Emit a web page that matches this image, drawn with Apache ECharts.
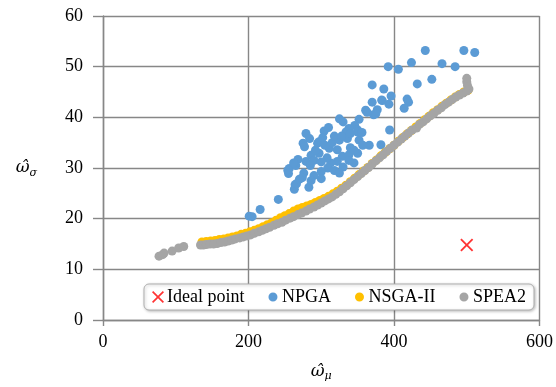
<!DOCTYPE html>
<html>
<head>
<meta charset="utf-8">
<script src="https://cdn.jsdelivr.net/npm/echarts@6/dist/echarts.min.js"></script>
<style>
  html, body { margin: 0; padding: 0; background: #fff; }
  #main { width: 556px; height: 387px; }
</style>
</head>
<body>
<div id="main"></div>
<script>
// values: [omega_mu, omega_sigma]
var idealPoint = [[500, 14.8]];

var npga = [
  [443, 53.2], [496, 53.2], [511, 52.8], [392, 50.0], [406, 49.5], [424, 50.8], [466, 50.6], [484, 50.0],
  [370, 46.4], [386, 45.6], [432, 46.6], [452, 47.5],
  [396, 44.2], [383, 43.4], [370, 43.0], [393, 42.6], [418, 43.6], [420, 43.0], [414, 41.8], [384, 43.3],
  [361, 41.4], [377, 41.5], [372, 40.5], [363, 41.0], [375, 40.7],
  [325, 39.7], [330, 39.1], [352, 39.6], [346, 38.4], [338, 37.8], [350, 37.5], [394, 37.5], [334, 37.1],
  [304, 37.3], [279, 36.8], [350, 37.1],
  [366, 34.5], [382, 34.6], [352, 35.5], [336, 35.8], [325, 35.5], [297, 35.2], [275, 34.9], [277, 34.2],
  [295, 34.9], [311, 33.9], [322, 33.6],
  [329, 32.3], [338, 32.6], [350, 32.9], [297, 32.9], [268, 31.7], [279, 31.3], [345, 31.0], [322, 31.3],
  [313, 31.0], [309, 30.0],
  [300, 29.3], [300, 27.9], [276, 29.0], [274, 28.1], [254, 29.5], [256, 29.9], [265, 30.5],
  [264, 26.7], [263, 25.8], [283, 26.2], [241, 23.8], [216, 21.8], [201, 20.5], [205, 20.4],
  [255, 28.9], [266, 26.9],
  [286, 32.5], [290, 31.5], [305, 34.5], [315, 35.0], [318, 36.3], [328, 36.3], [340, 34.0], [345, 33.5],
  [357, 34.5], [330, 30.2], [318, 29.5], [290, 28.5], [285, 30.5], [292, 33.5], [302, 36.0], [310, 38.0],
  [340, 36.8], [356, 37.0], [286, 27.5], [270, 27.8], [262, 31.0], [308, 32.0], [325, 29.0], [284, 35.8],
  [338, 31.5], [300, 31.2]
];

var nsga2 = [
  [136, 15.4], [142, 15.5], [148, 15.6], [154, 15.7], [160, 15.9], [166, 16.0], [172, 16.2], [178, 16.4],
  [184, 16.6], [190, 16.9], [196, 17.1], [202, 17.4], [208, 17.7], [214, 18.0], [220, 18.4], [226, 18.8],
  [232, 19.2], [238, 19.7], [244, 20.2], [250, 20.6], [256, 21.0], [262, 21.5], [268, 21.9], [274, 22.2],
  [280, 22.5], [286, 22.8], [292, 23.2], [298, 23.6], [304, 24.0], [310, 24.4], [316, 24.9], [322, 25.4],
  [328, 26.0], [334, 26.6], [340, 27.3], [346, 28.0], [352, 28.7], [358, 29.4], [364, 30.1], [370, 30.9],
  [376, 31.6], [382, 32.4], [388, 33.1], [394, 33.8], [400, 34.5], [406, 35.3], [412, 36.0], [418, 36.7],
  [424, 37.4], [430, 38.1], [436, 38.8], [442, 39.5], [448, 40.2], [454, 40.9], [460, 41.5], [466, 42.2],
  [472, 42.8], [478, 43.4], [484, 44.0], [490, 44.5], [496, 45.0], [502, 45.4]
];

var spea2 = [
  [77, 12.6], [82, 12.9], [84, 13.2], [95, 13.6], [104, 14.2], [111, 14.5],
  [134, 14.8], [138, 14.8], [142, 14.9], [147, 15.0], [152, 15.0], [157, 15.1], [162, 15.3], [167, 15.4],
  [172, 15.6], [177, 15.8], [182, 16.0], [188, 16.2], [193, 16.4], [198, 16.6], [203, 16.8], [208, 17.1],
  [214, 17.4], [219, 17.7], [224, 18.0], [229, 18.3], [235, 18.7], [240, 19.0], [246, 19.3], [251, 19.7],
  [257, 20.1], [262, 20.4], [268, 20.8], [273, 21.1], [279, 21.5], [284, 21.9], [290, 22.3], [295, 22.7],
  [300, 23.1], [305, 23.5], [310, 23.9], [315, 24.3], [320, 24.8], [325, 25.3], [330, 25.9], [335, 26.5],
  [340, 27.1], [345, 27.7], [350, 28.3], [355, 28.9], [360, 29.5], [365, 30.1], [370, 30.8], [375, 31.4],
  [380, 32.0], [385, 32.6], [390, 33.3], [395, 33.9], [400, 34.5], [405, 35.1], [410, 35.7], [415, 36.3],
  [420, 36.9], [425, 37.5], [431, 37.9], [440, 39.1], [435, 38.6], [445, 39.7], [450, 40.3], [455, 40.8],
  [460, 41.4], [465, 41.9], [470, 42.5], [475, 43.0], [480, 43.5], [485, 44.0], [490, 44.4], [495, 44.8],
  [500, 45.2], [503, 45.6], [501, 46.3], [500, 47.0], [500, 47.7]
];

var xTicks = { min: 0, max: 600, interval: 200 };
var yTicks = { min: 0, max: 60, interval: 10 };

var crossPath = 'path://M1,0 L5,4 L9,0 L10,1 L6,5 L10,9 L9,10 L5,6 L1,10 L0,9 L4,5 L0,1 Z';
var serif = '"Liberation Serif", "Times New Roman", serif';
var gridColor = '#878787';

var myChart = echarts.init(document.getElementById('main'), null, { renderer: 'canvas' });

var nameRich = {
  w: { fontFamily: 'DejaVu Serif', fontStyle: 'italic', fontSize: 17, color: '#000' },
  s: { fontFamily: 'DejaVu Serif', fontStyle: 'italic', fontSize: 11, color: '#000', padding: [10, 0, 0, 0] }
};

var option = {
  backgroundColor: '#fff',
  animation: false,
  textStyle: { fontFamily: serif },
  grid: { left: 103, right: 12, top: 16, bottom: 63 },
  legend: {
    left: 144,
    top: 284,
    padding: [4, 8, 4, 8],
    itemGap: 21,
    itemWidth: 12,
    itemHeight: 12,
    backgroundColor: '#fff',
    borderColor: '#b0b0b0',
    borderWidth: 1,
    borderRadius: 5,
    shadowColor: 'rgba(0,0,0,0.25)',
    shadowBlur: 3,
    shadowOffsetX: 1,
    shadowOffsetY: 1,
    textStyle: { fontFamily: serif, fontSize: 18, color: '#000', padding: [0, 0, 0, -2] },
    data: [
      { name: 'Ideal point', icon: crossPath },
      { name: 'NPGA', icon: 'circle', itemStyle: { borderColor: '#fff', borderWidth: 3 } },
      { name: 'NSGA-II', icon: 'circle', itemStyle: { borderColor: '#fff', borderWidth: 3 } },
      { name: 'SPEA2', icon: 'circle', itemStyle: { borderColor: '#fff', borderWidth: 3 } }
    ]
  },
  xAxis: {
    type: 'value',
    min: xTicks.min,
    max: xTicks.max,
    interval: xTicks.interval,
    name: '{w|ω̂}{s|μ}',
    nameLocation: 'middle',
    nameGap: 41,
    nameTextStyle: { rich: nameRich },
    axisLine: { show: true, lineStyle: { color: gridColor, width: 1.4 } },
    axisTick: { show: true, inside: false, length: 6, lineStyle: { color: gridColor, width: 1.4 } },
    axisLabel: { fontFamily: serif, fontSize: 18, color: '#000', margin: 13 },
    splitLine: { show: true, lineStyle: { color: gridColor, width: 1.4 } }
  },
  yAxis: {
    type: 'value',
    min: yTicks.min,
    max: yTicks.max,
    interval: yTicks.interval,
    name: '{w|ω̂}{s|σ}',
    nameLocation: 'middle',
    nameRotate: 0,
    nameGap: 66,
    nameTextStyle: { rich: nameRich },
    axisLine: { show: true, lineStyle: { color: gridColor, width: 1.4 } },
    axisTick: { show: true, inside: false, length: 10, lineStyle: { color: gridColor, width: 1.4 } },
    axisLabel: { fontFamily: serif, fontSize: 18, color: '#000', margin: 20 },
    splitLine: { show: true, lineStyle: { color: gridColor, width: 1.4 } }
  },
  series: [
    {
      name: 'Ideal point',
      type: 'scatter',
      symbol: crossPath,
      symbolSize: 13,
      itemStyle: { color: '#ff0000' },
      data: idealPoint
    },
    {
      name: 'NPGA',
      type: 'scatter',
      symbolSize: 9,
      itemStyle: { color: '#5b9bd5', opacity: 1 },
      data: npga
    },
    {
      name: 'NSGA-II',
      type: 'scatter',
      symbolSize: 9,
      itemStyle: { color: '#ffc000', opacity: 1 },
      data: nsga2
    },
    {
      name: 'SPEA2',
      type: 'scatter',
      symbolSize: 9,
      itemStyle: { color: '#a5a5a5', opacity: 1 },
      data: spea2
    }
  ]
};

myChart.setOption(option);
</script>
</body>
</html>
